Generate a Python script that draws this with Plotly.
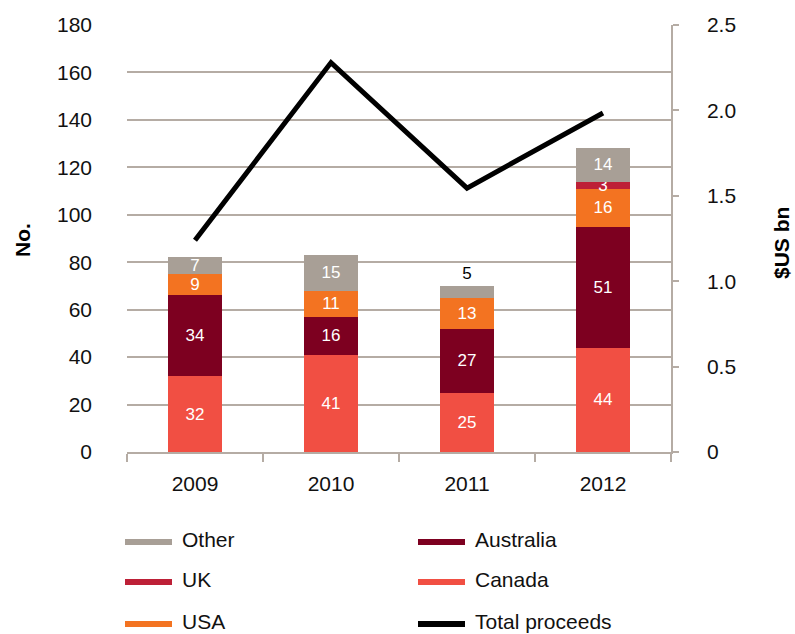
import plotly.graph_objects as go

years = ["2009", "2010", "2011", "2012"]
canada = [32, 41, 25, 44]
australia = [34, 16, 27, 51]
usa = [9, 11, 13, 16]
uk = [0, 0, 0, 3]
other = [7, 15, 5, 14]
total_proceeds = [1.24, 2.28, 1.545, 1.985]

colors = {
    "Other": "#a89f96",
    "UK": "#bd2037",
    "USA": "#f37321",
    "Australia": "#7d0020",
    "Canada": "#f14f43",
    "Total proceeds": "#000000",
}

FONT = "Liberation Sans, Arial, Helvetica, sans-serif"
W, H = 795, 634
L, R, T, B = 127, 124, 25, 182
PW, PH = W - L - R, H - T - B

fig = go.Figure()

stack = [("Canada", canada), ("Australia", australia), ("USA", usa), ("UK", uk), ("Other", other)]
for name, vals in stack:
    texts = [str(v) if v else "" for v in vals]
    if name == "Other":
        pos = ["inside", "inside", "outside", "inside"]
    else:
        pos = "inside"
    fig.add_trace(go.Bar(
        x=years, y=vals, name=name, marker_color=colors[name],
        marker_line_width=0, width=0.4,
        text=texts, textposition=pos, insidetextanchor="middle",
        textangle=0, constraintext="none", cliponaxis=False,
        insidetextfont=dict(color="white", size=17, family=FONT),
        outsidetextfont=dict(color="black", size=17, family=FONT),
        showlegend=False, hoverinfo="skip",
    ))

fig.add_trace(go.Scatter(
    x=years, y=total_proceeds, yaxis="y2", mode="lines",
    line=dict(color="black", width=5), name="Total proceeds",
    showlegend=False, cliponaxis=False,
))

grid = "#b5aca4"
fig.update_layout(
    width=W, height=H,
    margin=dict(l=L, r=R, t=T, b=B, pad=0),
    paper_bgcolor="white", plot_bgcolor="white",
    barmode="stack",
    font=dict(family=FONT, size=21, color="#111111"),
    uniformtext=dict(minsize=17, mode="show"),
    xaxis=dict(
        type="category", showgrid=False, showline=True, linecolor=grid, linewidth=1.5,
        ticks="outside", tickson="boundaries", ticklen=8, tickcolor=grid, tickwidth=1.5,
        ticklabelstandoff=12, tickfont=dict(size=21),
    ),
    yaxis=dict(
        range=[0, 180], dtick=20, showgrid=True, gridcolor=grid, gridwidth=1.5,
        showline=False, zeroline=False, ticks="", ticklabelstandoff=34,
        tickfont=dict(size=21),
    ),
    yaxis2=dict(
        overlaying="y", side="right", range=[0, 2.5],
        tickvals=[0, 0.5, 1.0, 1.5, 2.0, 2.5],
        ticktext=["0", "0.5", "1.0", "1.5", "2.0", "2.5"],
        showgrid=False, zeroline=False, showline=True, linecolor=grid, linewidth=1.5,
        ticks="outside", ticklen=6, tickcolor=grid, tickwidth=1.5,
        ticklabelstandoff=24, tickfont=dict(size=21),
    ),
)

def px_x(p):
    return (p - L) / PW

def px_y(p):
    return (H - B - p) / PH

# axis titles
fig.add_annotation(text="<b>No.</b>", x=px_x(22), y=px_y(240), xref="paper", yref="paper",
                   xanchor="center", yanchor="middle",
                   textangle=-90, showarrow=False, font=dict(size=21, family=FONT, color="black"))
fig.add_annotation(text="<b>$US bn</b>", x=px_x(781), y=px_y(243), xref="paper", yref="paper",
                   xanchor="center", yanchor="middle",
                   textangle=-90, showarrow=False, font=dict(size=21, family=FONT, color="black"))

# legend drawn as line swatches with labels in two columns
legend_items = [
    ("Other", 125, 542), ("UK", 125, 582), ("USA", 125, 624),
    ("Australia", 418, 542), ("Canada", 418, 582), ("Total proceeds", 418, 624),
]
for name, lx, ly in legend_items:
    fig.add_shape(type="line", xref="paper", yref="paper",
                  x0=px_x(lx), x1=px_x(lx + 47), y0=px_y(ly), y1=px_y(ly),
                  line=dict(color=colors[name], width=6))
    fig.add_annotation(text=name, x=px_x(lx + 55), y=px_y(ly - 3), xref="paper", yref="paper",
                       xanchor="left", yanchor="middle", showarrow=False,
                       font=dict(size=21, family=FONT, color="#111111"))

fig.write_html("out.html")
